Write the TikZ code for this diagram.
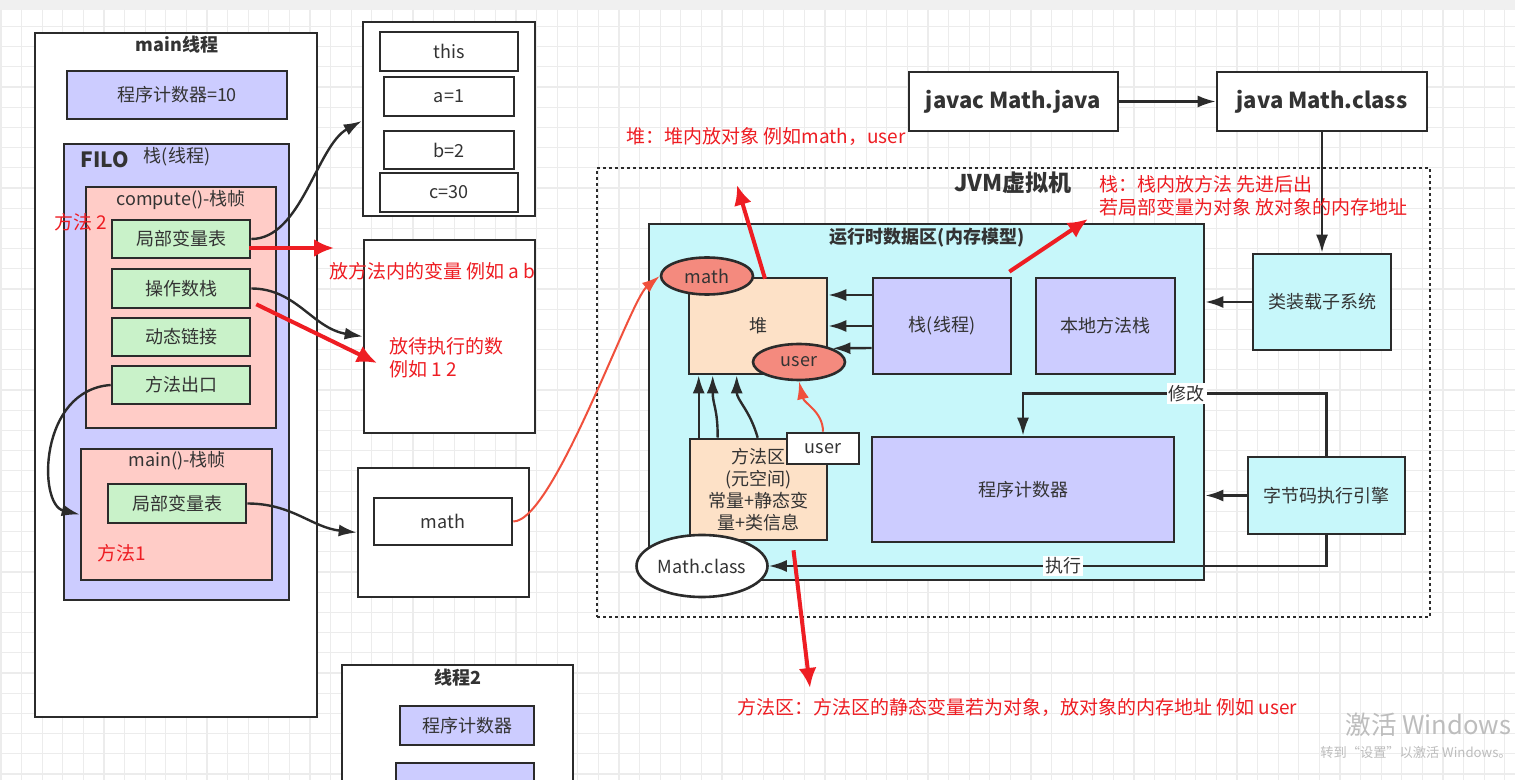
\documentclass[tikz,border=0pt]{standalone}
\usepackage{fontspec}
\setmainfont{Noto Sans CJK SC}
\usetikzlibrary{arrows.meta,shapes.geometric,calc}
\definecolor{lav}{HTML}{CCCCFF}
\definecolor{pinkf}{HTML}{FFCCC7}
\definecolor{greenf}{HTML}{C9F2C9}
\definecolor{cyanf}{HTML}{C7F7FA}
\definecolor{peach}{HTML}{FDE1C7}
\definecolor{salmon}{HTML}{F48A7E}
\definecolor{redn}{HTML}{EE1D23}
\definecolor{redl}{HTML}{F0503C}
\definecolor{txt}{HTML}{333333}
\definecolor{edge}{HTML}{2B2B2B}
\definecolor{gridc}{HTML}{ECECEC}
\definecolor{band}{HTML}{F0F0F0}
\definecolor{wmark}{HTML}{BDBDBD}
\newcommand{\bx}[7]{\node[#2, minimum width={(#5-#3)*0.5pt}, minimum height={(#6-#4)*0.5pt}] (#1) at ({(#3+#5)/2},{(#4+#6)/2}) {#7};}
\begin{document}
\begin{tikzpicture}[x=0.5pt,y=-0.5pt,
  box/.style={draw=edge,line width=1.3pt,inner sep=0pt,text=txt,font=\fontsize{9}{11}\selectfont,align=center},
  dotbox/.style={draw=edge,line width=1.4pt,dash pattern=on 1.4pt off 1.6pt,inner sep=0pt},
  ell/.style={ellipse,draw=edge,line width=1.3pt,inner sep=0pt,text=txt,font=\fontsize{9}{11}\selectfont},
  title/.style={text=txt,font=\fontsize{9}{11}\selectfont\bfseries,inner sep=0pt},
  bigbold/.style={text=txt,font=\fontsize{11.5}{13}\selectfont\bfseries,inner sep=0pt},
  lbl/.style={text=txt,font=\fontsize{9}{11}\selectfont,inner sep=0pt},
  note/.style={text=redn,font=\fontsize{9.5}{11.5}\selectfont,inner sep=0pt,anchor=west,align=left},
  arr/.style={draw=edge,line width=1.2pt,-{Latex[length=9pt,width=6pt]}},
  redarr/.style={draw=redn,line width=2pt,-{Latex[length=10pt,width=9pt]}},
  thinred/.style={draw=redl,line width=1pt,-{Latex[length=9pt,width=6pt]}},
  lab/.style={fill=white,text=txt,font=\fontsize{9}{11}\selectfont,inner sep=1pt}]
\useasboundingbox (0,0) rectangle (1515,780);
\fill[white] (0,0) rectangle (1515,780);
\fill[band] (0,0) rectangle (1515,10);
\foreach \i in {0,...,73} \draw[gridc,line width=0.6pt] ({1+20.6*\i},10) -- ({1+20.6*\i},780);
\foreach \j in {1,...,38} \draw[gridc,line width=0.6pt] (0,{6.3+20.2*\j}) -- (1515,{6.3+20.2*\j});

% ---------- main thread ----------
\bx{mainthr}{box,fill=white}{35}{33}{317}{717}{}
\node[title] (mainttl) at (177,45) {main线程};
\bx{pc1}{box,fill=lav}{67}{71}{287}{119}{程序计数器=10}
\bx{filo}{box,fill=lav}{64}{144}{289}{600}{}
\node[text=txt,font=\fontsize{10.5}{12}\selectfont\bfseries,inner sep=0pt] (filottl) at (105,160) {FILO};
\node[lbl] (stackttl) at (177,157) {栈(线程)};
\bx{cframe}{box,fill=pinkf}{86}{187}{276}{428}{}
\node[lbl] (cttl) at (181,200) {compute()-栈帧};
\bx{lv1}{box,fill=greenf}{112}{220}{250}{258}{局部变量表}
\bx{op}{box,fill=greenf}{112}{269}{250}{308}{操作数栈}
\bx{dl}{box,fill=greenf}{112}{318}{250}{356}{动态链接}
\bx{exit}{box,fill=greenf}{112}{366}{250}{404}{方法出口}
\bx{mframe}{box,fill=pinkf}{81}{449}{272}{580}{}
\node[lbl] (mttl) at (177,461) {main()-栈帧};
\bx{lv2}{box,fill=greenf}{108}{484}{246}{523}{局部变量表}

% ---------- memory boxes ----------
\bx{boxA}{box,fill=white}{363}{22}{535}{216}{}
\bx{vthis}{box,fill=white}{380}{32}{518}{71}{this}
\bx{va}{box,fill=white}{384}{77}{514}{116}{a=1}
\bx{vb}{box,fill=white}{384}{131}{514}{169}{b=2}
\bx{vc}{box,fill=white}{380}{173}{518}{212}{c=30}
\bx{boxB}{box,fill=white}{364}{240}{535}{433}{}
\bx{boxC}{box,fill=white}{358}{468}{529}{597}{}
\bx{mathbox}{box,fill=white}{374}{498}{512}{545}{math}

% ---------- thread 2 ----------
\bx{thr2}{box,fill=white}{342}{665}{573}{800}{}
\node[title] (t2ttl) at (458,678) {线程2};
\bx{pc2}{box,fill=lav}{400}{706}{534}{745}{程序计数器}
\bx{pc3}{box,fill=lav}{396}{763}{534}{800}{}

% ---------- JVM ----------
\bx{javac}{box,fill=white,font=\fontsize{11}{13}\selectfont\bfseries}{909}{72}{1118}{131}{javac Math.java}
\bx{java}{box,fill=white,font=\fontsize{11}{13}\selectfont\bfseries}{1217}{72}{1427}{131}{java Math.class}
\bx{jvm}{dotbox}{597}{168}{1430}{617}{}
\node[bigbold] (jvmttl) at (1013,183) {JVM虚拟机};
\bx{rt}{box,fill=cyanf}{649}{224}{1204}{580}{}
\node[title] (rtttl) at (927,238) {运行时数据区(内存模型)};
\bx{heap}{box,fill=peach}{689}{278}{827}{374}{堆}
\bx{stack}{box,fill=lav}{873}{278}{1011}{374}{栈(线程)}
\bx{native}{box,fill=lav}{1036}{278}{1175}{374}{本地方法栈}
\bx{marea}{box,fill=peach}{690}{439}{827}{540}{方法区\\(元空间)\\常量+静态变\\量+类信息}
\bx{pc}{box,fill=lav}{872}{437}{1174}{542}{程序计数器}
\node[ell,fill=salmon,minimum width=46pt,minimum height=18.5pt] (mathEll) at (707,276) {math};
\node[ell,fill=salmon,minimum width=46pt,minimum height=18pt] (userEll) at (799,362) {user};
\bx{userbox}{box,fill=white}{787}{433}{859}{464}{user}
\bx{loader}{box,fill=cyanf}{1253}{254}{1391}{350}{类装载子系统}
\bx{engine}{box,fill=cyanf}{1248}{457}{1405}{534}{字节码执行引擎}

% ---------- black connectors ----------
\draw[arr] (lv1.east) .. controls +(50,0) and +(-45,25) .. ($(boxA.west)+(0,2)$);
\draw[arr] (op.east) .. controls +(45,0) and +(-50,-8) .. (boxB.west);
\draw[arr] (lv2.east) .. controls +(45,0) and +(-45,-5) .. (boxC.west);
\draw[arr] (exit.west) .. controls +(-72,5) and +(-42,-10) .. (mframe.west);
\draw[arr] (javac.east) -- (java.west);
\draw[arr] (java.south) -- (loader.north);
\draw[arr] (loader.west) -- (loader.west -| rt.east);
\draw[arr] (engine.west) -- (engine.west -| rt.east);
\draw[arr] ($(stack.west)+(0,-31)$) -- ($(heap.east)+(0,-31)$);
\draw[arr] (stack.west) -- (heap.east);
\draw[arr] ($(stack.west)+(0,22)$) -- (userEll.north east);
\draw[arr] ($(marea.north west)+(10,0)$) -- ($(heap.south west)+(11,0)$);
\draw[arr] ($(marea.north west)+(29,0)$) .. controls +(0,-30) and +(0,30) .. ($(heap.south west)+(25,0)$);
\draw[arr] ($(marea.north west)+(69,0)$) .. controls +(-8,-28) and +(0,25) .. ($(heap.south west)+(49,0)$);
\draw[arr] (engine.north) -- ++(0,-62) -| (pc.north) node[lab,pos=0.23] (lblmod) {修改};
\node[ell,fill=white,minimum width=65.5pt,minimum height=31pt] (mathclass) at (702,566) {Math.class};
\draw[arr] (engine.south) |- (mathclass.east) node[lab,pos=0.736] (lblexe) {执行};

% ---------- red connectors ----------
\draw[thinred] (mathbox.east) .. controls +(40,0) and +(-30,25) .. (mathEll.west);
\draw[thinred] (userbox.north) .. controls +(0,-20) and +(5,22) .. (userEll.south);
\coordinate (tipA) at (334,248);
\coordinate (tipB) at (377,363);
\coordinate (heaptip) at (737,185);
\coordinate (stacktip) at (1088,219);
\coordinate (mtip) at (810,688);
\draw[redarr] ($(lv1.east)+(-2,9)$) -- (tipA);
\draw[redarr] ($(op.south east)+(5,-5)$) -- (tipB);
\draw[redarr] ($(heap.north)+(7,2)$) -- (heaptip);
\draw[redarr] ($(stack.north east)+(-3,-5)$) -- (stacktip);
\draw[redarr] ($(marea.south)+(35,9)$) -- (mtip);

% ---------- red notes ----------
\node[note] (m2) at (54,222) {方法 2};
\node[note] (m1) at (97,553) {方法1};
\node[note] (nB1) at (329,271) {放方法内的变量 例如 a b};
\node[note] (nB2) at (389,358) {放待执行的数\\例如 1 2};
\node[note] (heapnote) at (626,137) {堆：堆内放对象 例如math，user};
\node[note] (stacknote) at (1099,196) {栈：栈内放方法 先进后出\\若局部变量为对象 放对象的内存地址};
\node[note] (mnote) at (737,707) {方法区：方法区的静态变量若为对象，放对象的内存地址 例如 user};

% ---------- overlay ----------
\node[text=wmark,font=\fontsize{12.8}{14}\selectfont,inner sep=0pt,anchor=west] (win1) at (1345,725) {激活 Windows};
\node[text=wmark,font=\fontsize{6.6}{8}\selectfont,inner sep=0pt,anchor=east] (win2) at (1512,752) {转到“设置”以激活 Windows。};
\end{tikzpicture}
\end{document}
